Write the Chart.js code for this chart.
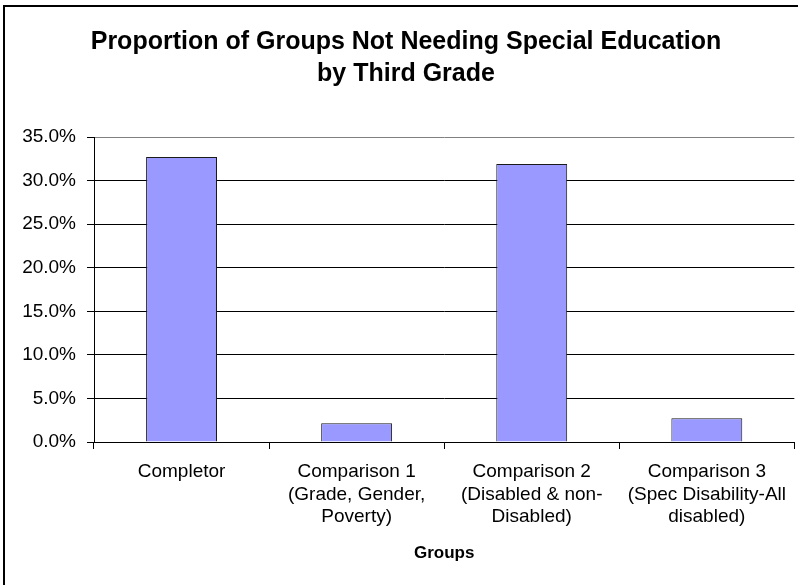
<!DOCTYPE html>
<html>
<head>
<meta charset="utf-8">
<script src="https://cdn.jsdelivr.net/npm/chart.js@4/dist/chart.umd.min.js"></script>
<style>
  html, body { margin: 0; padding: 0; background: #fff; }
  #wrap { width: 798px; height: 585px; position: relative; }
</style>
</head>
<body>
<div id="wrap"><canvas id="c"></canvas></div>
<script>
const categories = [
  "Completor",
  ["Comparison 1", "(Grade, Gender,", "Poverty)"],
  ["Comparison 2", "(Disabled & non-", "Disabled)"],
  ["Comparison 3", "(Spec Disability-All", "disabled)"]
];
const proportions = [32.7, 2.15, 31.9, 2.72];
const yTicks = [0, 5, 10, 15, 20, 25, 30, 35];
const titleLines = ["Proportion of Groups Not Needing Special Education", "by Third Grade"];
const xTitle = "Groups";

const FONT = "'Liberation Sans', Arial, sans-serif";

const framePlugin = {
  id: 'frame',
  beforeDraw(chart) {
    const ctx = chart.ctx;
    ctx.save();
    ctx.fillStyle = '#fff';
    ctx.fillRect(0, 0, chart.width, chart.height);
    ctx.restore();
  },
  afterDraw(chart) {
    const ctx = chart.ctx;
    ctx.save();
    ctx.strokeStyle = '#000';
    ctx.lineWidth = 2;
    ctx.strokeRect(4, 6, 900, 700);
    ctx.restore();
  }
};

new Chart(document.getElementById('c'), {
  type: 'bar',
  data: {
    labels: categories,
    datasets: [{
      data: proportions,
      backgroundColor: '#9999FF',
      borderColor: '#1a1a1a',
      borderWidth: 1,
      categoryPercentage: 1.0,
      barPercentage: 0.405
    }]
  },
  options: {
    responsive: true,
    maintainAspectRatio: false,
    devicePixelRatio: 1,
    animation: false,
    layout: { padding: { left: 14, right: 0, top: 0, bottom: 0 } },
    plugins: {
      legend: { display: false },
      tooltip: { enabled: false },
      title: {
        display: true,
        text: titleLines,
        color: '#000',
        font: { family: FONT, size: 25, weight: 'bold', lineHeight: 1.28 },
        padding: { top: 26, bottom: 47 }
      }
    },
    scales: {
      x: {
        offset: true,
        grid: {
          display: true,
          offset: true,
          drawOnChartArea: false,
          drawTicks: true,
          tickLength: 7,
          tickColor: '#000',
          color: '#000'
        },
        border: { display: true, color: '#000', width: 1 },
        ticks: {
          color: '#000',
          font: { family: FONT, size: 19, lineHeight: 1.18 },
          padding: 12,
          maxRotation: 0,
          minRotation: 0,
          autoSkip: false
        },
        title: {
          display: true,
          text: xTitle,
          color: '#000',
          font: { family: FONT, size: 17, weight: 'bold', lineHeight: 1.2 },
          padding: { top: 0, bottom: 21 }
        },
        afterFit(scale) { scale.height = 143; }
      },
      y: {
        min: 0,
        max: 35,
        afterBuildTicks(scale) { scale.ticks = yTicks.map(v => ({ value: v })); },
        grid: {
          color: (c) => (c.tick && c.tick.value === 35) ? '#808080' : '#000',
          tickColor: '#000',
          tickLength: 7,
          lineWidth: 1
        },
        border: { display: true, color: '#000', width: 1 },
        ticks: {
          color: '#000',
          font: { family: FONT, size: 19 },
          padding: 11,
          callback: (v) => Number(v).toFixed(1) + '%'
        },
        afterFit(scale) { scale.width = 80; }
      }
    }
  },
  plugins: [framePlugin]
});
</script>
</body>
</html>
